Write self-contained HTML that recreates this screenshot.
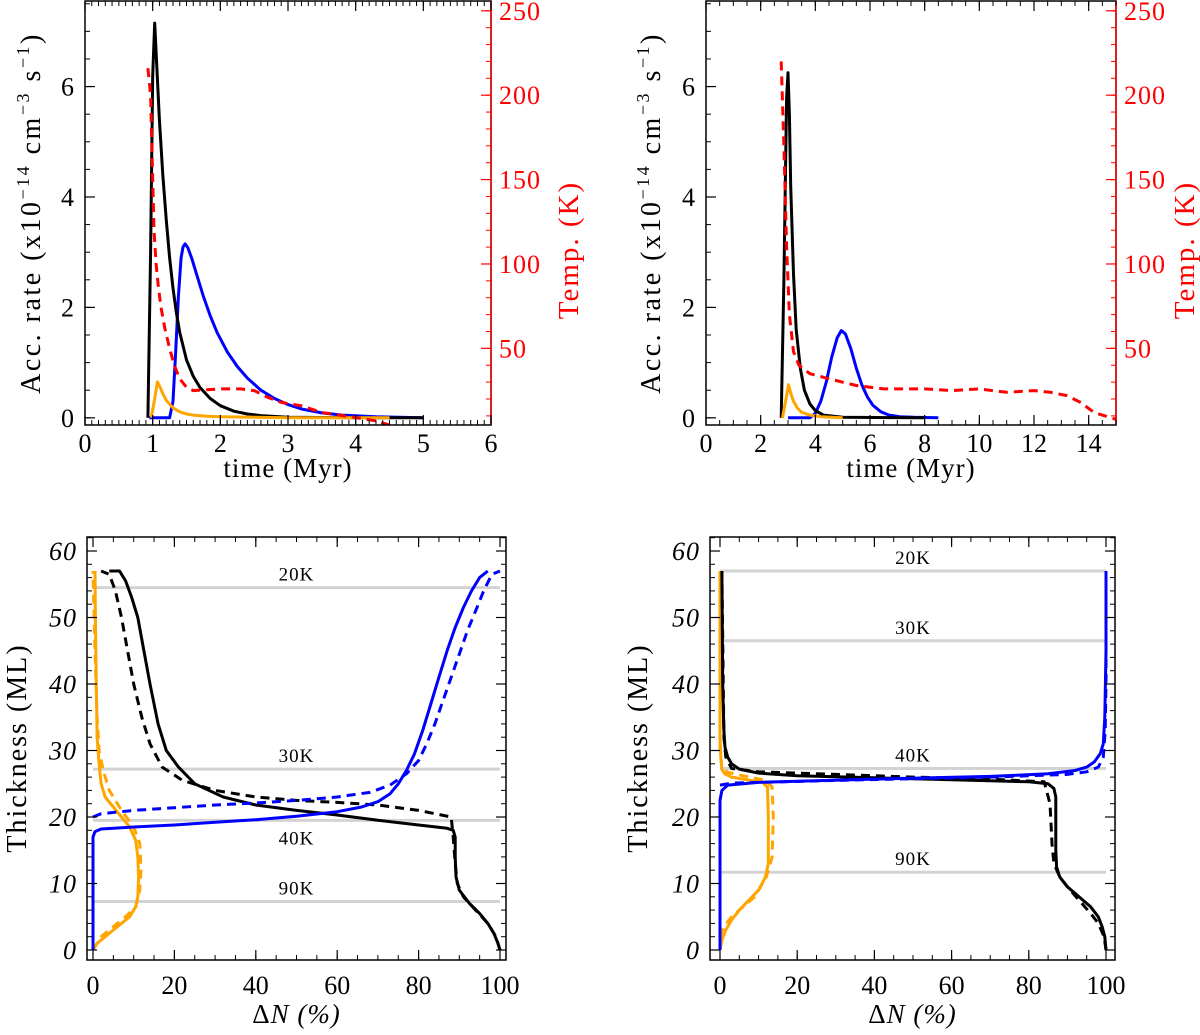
<!DOCTYPE html>
<html><head><meta charset="utf-8"><style>
html,body{margin:0;padding:0;background:#fff}
svg{display:block}
text{font-family:"Liberation Serif","DejaVu Serif",serif;}
</style></head><body>
<svg id="fig" width="1200" height="1035" viewBox="0 0 1200 1035" xmlns="http://www.w3.org/2000/svg"></svg>
<script>
// ---------- data ----------
const tlBlackT=[0.93,0.97,1.0,1.03,1.06,1.1,1.15,1.2,1.25,1.3,1.35,1.4,1.5,1.6,1.7,1.85,2.0,2.2,2.4,2.6,3.0,4.0,5.0];
const tlBlackV=[0,3.0,6.2,7.15,6.4,5.4,4.4,3.6,2.9,2.35,1.9,1.55,1.05,0.75,0.55,0.35,0.22,0.12,0.07,0.04,0.01,0,0];
const tlOrangeT=[0.98,1.03,1.07,1.1,1.15,1.2,1.3,1.4,1.5,1.6,1.8,2.0,3.0,4.5];
const tlOrangeV=[0,0.35,0.65,0.58,0.44,0.32,0.18,0.11,0.07,0.05,0.03,0.02,0,0];
const tlBlueT=[0.95,1.25,1.3,1.34,1.38,1.42,1.45,1.48,1.52,1.58,1.65,1.75,1.85,1.95,2.1,2.25,2.4,2.6,2.8,3.0,3.2,3.5,3.8,4.3,5.0];
const tlBlueV=[0,0,0.3,1.2,2.2,2.9,3.1,3.15,3.08,2.88,2.6,2.2,1.85,1.55,1.2,0.93,0.72,0.5,0.35,0.24,0.16,0.09,0.05,0.02,0];
const tlTempT=[0.93,0.97,1.0,1.02,1.05,1.08,1.12,1.18,1.25,1.32,1.4,1.5,1.6,2.0,2.3,2.5,2.7,2.9,3.2,3.5,4.0,4.3,4.5];
const tlTempV=[216,200,150,120,100,88,75,62,50,40,32,27,25,26,26,25,21,18,16,12,9,7,4.6];

const trBlackT=[2.75,2.85,2.95,3.0,3.05,3.1,3.2,3.3,3.45,3.6,3.8,4.0,4.3,5,8];
const trBlackV=[0,2.5,5.8,6.25,5.5,4.2,2.6,1.6,0.9,0.5,0.25,0.13,0.05,0.01,0];
const trOrangeT=[2.8,2.95,3.02,3.1,3.2,3.35,3.5,3.8,4.2,5];
const trOrangeV=[0,0.4,0.6,0.45,0.3,0.17,0.1,0.05,0.02,0];
const trBlueT=[3.0,3.8,4.0,4.2,4.4,4.6,4.8,4.95,5.1,5.3,5.5,5.7,5.9,6.1,6.4,6.7,7.1,7.6,8.5];
const trBlueV=[0,0,0.08,0.3,0.65,1.1,1.45,1.58,1.52,1.25,0.9,0.6,0.38,0.23,0.11,0.05,0.02,0.01,0];
const trTempT=[2.75,2.85,2.95,3.05,3.2,3.4,3.8,4.5,5.5,6.5,8,9,10,11,12,12.6,13.2,13.7,14.2,15];
const trTempV=[220,170,110,70,48,40,35,32,28,26,26,25,26,24,25,24,22,18,12,8];

const blBlackSx=[100,99.5,98.5,97,95,92.5,90,89.2,89,89,88.5,87,80,70,60,50,40,32,25,21,18,16,14,12.5,11,9.5,8,6.5,4];
const blBlackSy=[0,1,2.5,4,5.5,7,9,11,14,17,18,18.3,18.8,19.5,20.3,21,21.8,23,25,27.5,30,34,40,45,50,53,55.5,57,57];
const blBlackDx=[100,99,97,94,91,89.5,89,88.5,88,80,70,60,50,40,30,22,17,14,12,10,8.5,7,5.5,4,2];
const blBlackDy=[0,2,4,6,8,10,13,17,20,21,21.8,22.2,22.5,23,24,25.5,27.5,31,35,40,45,50,54,56.5,57];
const blBlueSx=[0,0,0.5,2,10,20,30,40,50,60,66,70,73,75,77,79,81,83,85,87,89,91,93,95,97];
const blBlueSy=[0,17,17.8,18.2,18.5,18.8,19.2,19.6,20.1,20.8,21.5,22.3,23.5,25,27,29.5,33,37,41,45,48.5,51.5,54,56,57];
const blBlueDx=[0,2,10,20,30,40,50,60,68,73,77,80,82,84,86,88,90,92,94,96,98,100];
const blBlueDy=[20,20.5,21,21.4,21.8,22.1,22.5,23,23.7,24.8,26.5,28.5,31,34,37.5,41,44.5,48,51,54,56.5,57];
const blOrgSx=[0,1,3,5,7,9,10.5,11,11.2,11,10.5,9,7,5,3,2,1.5,1,0.8,0.6,0.5];
const blOrgSy=[0,1,2,3,4,5,6.5,8,11,14,16.5,18.5,20,21.5,23,25,28,32,40,50,57];
const blOrgDx=[0,2,5,8,10.5,11.5,11.8,11.5,10,7,4,2.5,1.5,1,0.5,0];
const blOrgDy=[0,2,3.5,5,6.5,9,12,16,18.5,21,24,27,30,35,45,57];

const brBlackSx=[100,99.7,99,98,96,93,90,88,87.2,87,87,86.5,85,80,60,40,20,10,5,3,2,1.3,1,0.7,0.5];
const brBlackSy=[0,2,3.5,5,6.5,8,9.5,11,12.5,15,23,24.3,25,25.3,25.6,25.9,26.2,26.6,27.2,28,29,30.5,33,40,57];
const brBlackDx=[100,99.5,98,96,93,90,88,86.5,86,85.5,84,70,50,30,10,3,1.5,1,0.5];
const brBlackDy=[0,2,4,5.5,7.5,9.5,11,13,16,22,25.3,25.7,26,26.4,26.8,27.3,29,32,57];
const brBlueSx=[0,0,0.5,2,10,40,70,85,92,95,97,98.5,99.3,99.7,100,100];
const brBlueSy=[0,22.5,24,24.8,25.2,25.7,26.1,26.5,27,27.5,28.3,29.5,31,35,45,57];
const brBlueDx=[0,3,30,70,90,95,98,99.3,99.8,100,100];
const brBlueDy=[24.8,25.1,25.5,26,26.4,26.8,27.5,29,33,40,57];
const brOrgSx=[0,0.5,1.5,3,5,7.5,10,11.8,12.5,12.5,12.3,11,7,3,1.2,0.5,0.2,0,0];
const brOrgSy=[0,1.5,3,4.5,6,7.5,9,11,13,20,24.5,25.2,25.6,26,26.5,27.2,29,32,57];
const brOrgDx=[0,1,3,6,9,12,13.5,13.8,13.5,12,6,2,0.5,0,0];
const brOrgDy=[2,3.5,5,6.5,8,11,14,20,24.5,25.5,26.2,26.7,27.5,30,57];

const blTempLabels=["20K","30K","40K","90K"];
const blTempLevels=[54.5,27.2,19.5,7.3];
const blLabelBelow=[false,false,true,false];
const brTempLabels=["20K","30K","40K","90K"];
const brTempLevels=[57,46.5,27.3,11.7];
const brLabelBelow=[false,false,false,false];

const topLeftXTicks=[0,1,2,3,4,5,6];
const topRightXTicks=[0,2,4,6,8,10,12,14];
const rateTicks=[0,2,4,6];
const tempTicks=[50,100,150,200,250];
const dnTicks=[0,20,40,60,80,100];
const thickTicks=[0,10,20,30,40,50,60];

// ---------- helpers ----------
const NS="http://www.w3.org/2000/svg";
const svg=document.getElementById('fig');
function el(tag,attrs,parent){const e=document.createElementNS(NS,tag);for(const k in attrs)e.setAttribute(k,attrs[k]);(parent||svg).appendChild(e);return e;}
function txt(s,attrs,parent){const e=el('text',attrs,parent);e.textContent=s;return e;}
function lin(d0,d1,p0,p1){return v=>p0+(v-d0)/(d1-d0)*(p1-p0);}
function path(xs,ys,sx,sy){return xs.map((x,i)=>(i?'L':'M')+sx(x).toFixed(1)+','+sy(ys[i]).toFixed(1)).join(' ');}
function tickRange(a,b,step){const r=[];for(let v=Math.ceil(a/step-1e-9)*step;v<=b+1e-9;v+=step)r.push(+v.toFixed(6));return r;}

function axesBox(g,L,T,R,B){
  const r=el('rect',{x:L,y:T,width:R-L,height:B-T,fill:'none',stroke:'#000','stroke-width':1.5},g);
  
  
}
function xTicks(g,sx,T,B,major,minor,labels,italic,off){
  minor.forEach(v=>{const x=sx(v);el('line',{x1:x,x2:x,y1:B,y2:B-5,stroke:'#000','stroke-width':1},g);el('line',{x1:x,x2:x,y1:T,y2:T+5,stroke:'#000','stroke-width':1},g);});
  major.forEach((v,i)=>{const x=sx(v);el('line',{x1:x,x2:x,y1:B,y2:B-10,stroke:'#000','stroke-width':1.2},g);el('line',{x1:x,x2:x,y1:T,y2:T+10,stroke:'#000','stroke-width':1.2},g);
    const t=txt(String(labels[i]),{x:x,y:B+off,'text-anchor':'middle','font-size':26,fill:'#000','font-style':italic?'italic':'normal'},g);
    
    });
}
function yTicks(g,sy,L,R,major,minor,labels,color,side,italic){
  const c=color||'#000';
  minor.forEach(v=>{const y=sy(v);
    if(side!=='right')el('line',{x1:L,x2:L+5,y1:y,y2:y,stroke:c,'stroke-width':1},g);
    if(side!=='left')el('line',{x1:R,x2:R-5,y1:y,y2:y,stroke:c,'stroke-width':1},g);});
  major.forEach((v,i)=>{const y=sy(v);
    if(side!=='right')el('line',{x1:L,x2:L+10,y1:y,y2:y,stroke:c,'stroke-width':1.2},g);
    if(side!=='left')el('line',{x1:R,x2:R-10,y1:y,y2:y,stroke:c,'stroke-width':1.2},g);
    if(labels){
      const t=side==='right'?txt(String(labels[i]),{x:R+8,y:y+9,'text-anchor':'start','font-size':26,fill:c,'letter-spacing':1},g)
        :txt(String(labels[i]),{x:L-10,y:y+9,'text-anchor':'end','font-size':26,fill:c,'font-style':italic?'italic':'normal','letter-spacing':1},g);
      
      
    }});
}
function curve(g,xs,ys,sx,sy,color,dash,name){
  const p=el('path',{d:path(xs,ys,sx,sy),fill:'none',stroke:color,'stroke-width':3,'stroke-linejoin':'round','stroke-dasharray':dash?'9,6':'none'},g);
  
  
}

// ---------- top panels ----------
function topPanel(id,L,R,xmax,xt,xminStep,series,ytitleX,tempTitleX,tempTitleY){
  const g=el('g',{});
  
  
  const T=1,B=425;
  const sx=lin(0,xmax,L,R), sy=lin(-0.13,7.55,B,T), st=lin(4.6,255.8,B,T);
  const cp=el('clipPath',{id:id+'-clip'},g);el('rect',{x:L,y:T,width:R-L,height:B-T},cp);
  const cg=el('g',{'clip-path':'url(#'+id+'-clip)'},g);
  curve(cg,series.bT,series.bV,sx,sy,'#0000ff',false,'blue-rate-curve');
  curve(cg,series.kT,series.kV,sx,sy,'#000',false,'black-rate-curve');
  curve(cg,series.oT,series.oV,sx,sy,'#ffa500',false,'orange-rate-curve');
  curve(cg,series.tT,series.tV,sx,st,'#ff0000',true,'temperature-curve');
  axesBox(g,L,T,R,B);
  el('line',{x1:R,x2:R,y1:T,y2:B,stroke:'#ff0000','stroke-width':1.5},g);
  xTicks(g,sx,T,B,xt,tickRange(0,xmax,xminStep),xt,false,27);
  yTicks(g,sy,L,R,rateTicks,tickRange(0,7.5,0.5),rateTicks,'#000','left');
  yTicks(g,st,L,R,tempTicks,tickRange(10,250,10),tempTicks,'#ff0000','right');
  const xt1=txt('time (Myr)',{x:(L+R)/2,y:477,'text-anchor':'middle','font-size':27,'letter-spacing':1},g);
  
  const yt=el('text',{x:0,y:0,transform:`translate(${ytitleX},213) rotate(-90)`,'text-anchor':'middle','font-size':28,'letter-spacing':2.5},g);
  yt.innerHTML='Acc. rate (x10<tspan dy="-11" font-size="18">−14</tspan><tspan dy="11"> cm</tspan><tspan dy="-11" font-size="18">−3</tspan><tspan dy="11"> s</tspan><tspan dy="-11" font-size="18">−1</tspan><tspan dy="11">)</tspan>';
  
  const tt=txt('Temp. (K)',{x:0,y:0,transform:`translate(${tempTitleX},${tempTitleY}) rotate(-90)`,'text-anchor':'middle','font-size':29,fill:'#ff0000','letter-spacing':2},g);
  
}
topPanel('top-left-panel',85,491,6,topLeftXTicks,0.1,
  {kT:tlBlackT,kV:tlBlackV,oT:tlOrangeT,oV:tlOrangeV,bT:tlBlueT,bV:tlBlueV,tT:tlTempT,tV:tlTempV},40,578,250);
topPanel('top-right-panel',706,1116,15,topRightXTicks,0.5,
  {kT:trBlackT,kV:trBlackV,oT:trOrangeT,oV:trOrangeV,bT:trBlueT,bV:trBlueV,tT:trTempT,tV:trTempV},660,1194,250);

// ---------- bottom panels ----------
function bottomPanel(id,L,R,x0px,x100px,s,levels,labels,below,ytitleX){
  const g=el('g',{});
  
  
  const T=537,B=960;
  const sx=lin(0,100,x0px,x100px), sy=lin(0,60,950,551);
  levels.forEach((lv,i)=>{
    const l=el('line',{x1:sx(0),x2:sx(100),y1:sy(lv),y2:sy(lv),stroke:'#d3d3d3','stroke-width':3},g);
    
    const ty=below[i]?sy(lv)+24:sy(lv)-7;
    const t=txt(labels[i],{x:(sx(0)+sx(100))/2,y:ty,'text-anchor':'middle','font-size':19,fill:'#000','letter-spacing':1},g);
    
  });
  curve(g,s.oSx,s.oSy,sx,sy,'#ffa500',false,'orange-solid-profile');
  curve(g,s.oDx,s.oDy,sx,sy,'#ffa500',true,'orange-dashed-profile');
  curve(g,s.kSx,s.kSy,sx,sy,'#000',false,'black-solid-profile');
  curve(g,s.kDx,s.kDy,sx,sy,'#000',true,'black-dashed-profile');
  curve(g,s.bSx,s.bSy,sx,sy,'#0000ff',false,'blue-solid-profile');
  curve(g,s.bDx,s.bDy,sx,sy,'#0000ff',true,'blue-dashed-profile');
  axesBox(g,L,T,R,B);
  xTicks(g,sx,T,B,dnTicks,tickRange(0,100,5),dnTicks,false,34);
  yTicks(g,sy,L,R,thickTicks,tickRange(0,62,2),thickTicks,'#000','both',true);
  const xt=el('text',{x:(L+R)/2,y:1023,'text-anchor':'middle','font-size':27,'letter-spacing':1},g);
  xt.innerHTML='Δ<tspan font-style="italic">N</tspan> <tspan font-style="italic">(%)</tspan>';
  
  const yt=txt('Thickness (ML)',{x:0,y:0,transform:`translate(${ytitleX},748) rotate(-90)`,'text-anchor':'middle','font-size':28,'letter-spacing':2},g);
  
}
bottomPanel('bottom-left-panel',87,506,93,500,
  {kSx:blBlackSx,kSy:blBlackSy,kDx:blBlackDx,kDy:blBlackDy,bSx:blBlueSx,bSy:blBlueSy,bDx:blBlueDx,bDy:blBlueDy,oSx:blOrgSx,oSy:blOrgSy,oDx:blOrgDx,oDy:blOrgDy},
  blTempLevels,blTempLabels,blLabelBelow,26);
bottomPanel('bottom-right-panel',710,1115,720,1106,
  {kSx:brBlackSx,kSy:brBlackSy,kDx:brBlackDx,kDy:brBlackDy,bSx:brBlueSx,bSy:brBlueSy,bDx:brBlueDx,bDy:brBlueDy,oSx:brOrgSx,oSy:brOrgSy,oDx:brOrgDx,oDy:brOrgDy},
  brTempLevels,brTempLabels,brLabelBelow,647);
</script>
</body></html>
